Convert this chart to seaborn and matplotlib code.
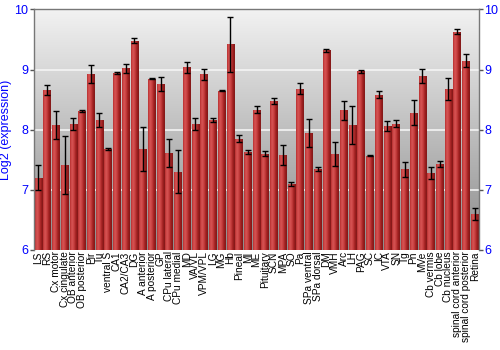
import numpy as np
import pandas as pd
import matplotlib
matplotlib.use("Agg")
import matplotlib.pyplot as plt
import seaborn as sns

regions = ["LS", "RS", "Cx motor", "Cx cingulate", "OB anterior", "OB posterior", "Pir", "Tu",
           "ventral S", "CA1", "CA2/CA3", "DG", "A anterior", "A posterior", "GP", "CPu lateral",
           "CPu medial", "MD", "VA/VL", "VPM/VPL", "LG", "MG", "Hb", "Pineal", "MI", "ME",
           "Pituitary", "SCN", "MPA", "SO", "Pa", "SPa ventral", "SPa dorsal", "DM", "VMH", "Arc",
           "LH", "PAG", "SC", "IC", "VTA", "SN", "Tg", "Pn", "MVe", "Cb vermis", "Cb lobe",
           "Cb nucleus", "spinal cord anterior", "spinal cord posterior", "Retina"]
expression = [7.20, 8.66, 8.08, 7.41, 8.09, 8.31, 8.92, 8.16, 7.68, 8.94, 9.02, 9.48, 7.68, 8.85,
              8.76, 7.61, 7.30, 9.04, 8.09, 8.92, 8.16, 8.65, 9.42, 7.85, 7.63, 8.33, 7.60, 8.48,
              7.58, 7.10, 8.68, 7.95, 7.35, 9.32, 7.60, 8.32, 8.08, 8.97, 7.57, 8.58, 8.06, 8.10,
              7.34, 8.28, 8.89, 7.28, 7.43, 8.68, 9.63, 9.15, 6.60]
error = [0.21, 0.08, 0.23, 0.48, 0.10, 0.02, 0.15, 0.12, 0.01, 0.02, 0.08, 0.04, 0.36, 0.01,
         0.12, 0.23, 0.36, 0.09, 0.10, 0.09, 0.03, 0.01, 0.46, 0.06, 0.035, 0.06, 0.04, 0.05,
         0.16, 0.03, 0.09, 0.23, 0.03, 0.02, 0.20, 0.16, 0.32, 0.03, 0.01, 0.06, 0.08, 0.06,
         0.12, 0.21, 0.12, 0.10, 0.05, 0.18, 0.045, 0.11, 0.10]
y_ticks = [6, 7, 8, 9, 10]

df = pd.DataFrame({"region": regions, "expression": expression, "error": error})

sns.set_theme(style="white")
plt.rcParams['font.family'] = ['Liberation Sans', 'DejaVu Sans']

fig = plt.figure(figsize=(5, 3.5), dpi=100)
ax = fig.add_axes([0.068, 0.286, 0.89, 0.687])

ymin, ymax = 6, 10
# background gradient
grad = np.linspace(0, 1, 256).reshape(-1, 1)
bg = matplotlib.colors.LinearSegmentedColormap.from_list("bg", ["#f2f2f2", "#8c8c8c"])
ax.imshow(grad, cmap=bg, aspect="auto", extent=[0, 1, 0, 1], transform=ax.transAxes,
          zorder=0, interpolation="bilinear")

for t in y_ticks[1:-1]:
    ax.axhline(t, color="#f4f4f4", lw=1.2, zorder=1)

sns.barplot(data=df, x="region", y="expression", color="#c43a3a", width=0.86,
            errorbar=None, ax=ax, zorder=2, saturation=1, edgecolor="none")

# horizontal gradient on bars
barcmap = matplotlib.colors.LinearSegmentedColormap.from_list(
    "bar", ["#b83030", "#d85555", "#c84040", "#a02020", "#801818"])
hg = np.linspace(0, 1, 64).reshape(1, -1)
for p in ax.patches:
    x0 = p.get_x(); w = p.get_width(); h = p.get_height()
    im = ax.imshow(hg, cmap=barcmap, aspect="auto", extent=[x0, x0 + w, ymin, h],
                   zorder=2.5, interpolation="bilinear")
    im.set_clip_path(p)

xs = np.arange(len(regions))
ax.errorbar(xs, df["expression"], yerr=df["error"], fmt="none", ecolor="black",
            elinewidth=1, capsize=2.5, capthick=1, zorder=4)

ax.set_xlim(-0.5, len(regions) - 0.5)
ax.set_ylim(ymin, ymax)
ax.set_yticks(y_ticks)
ax.set_xticks(xs)
ax.set_xticklabels(regions, rotation=90, fontsize=7.3, color="black")
ax.tick_params(axis="x", length=0, pad=1)
ax.tick_params(axis="y", which="both", left=True, right=True, labelleft=True, labelright=True,
               length=3, width=1, color="#555555", labelcolor="#0000ff", labelsize=9, pad=1)
ax.set_xlabel("")
ax.set_ylabel("Log2 (expression)", color="#0000ff", fontsize=9, labelpad=2)
for side in ["left", "right", "top"]:
    ax.spines[side].set_visible(True)
    ax.spines[side].set_color("#777777")
    ax.spines[side].set_linewidth(1)
ax.spines["bottom"].set_visible(False)

fig.savefig("out.png", dpi=100, facecolor="white")
